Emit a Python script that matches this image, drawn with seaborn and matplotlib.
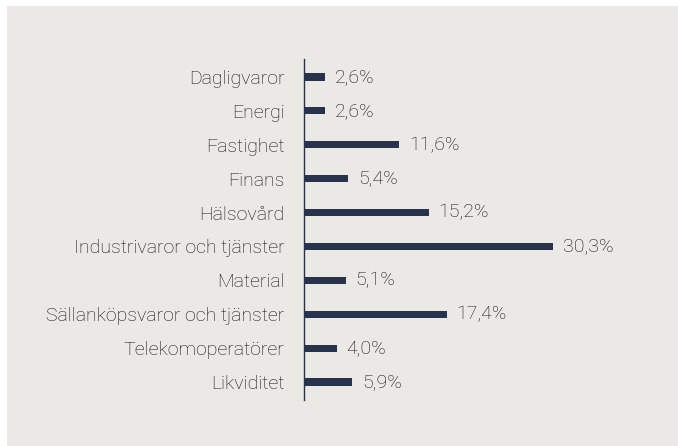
import matplotlib
matplotlib.use("Agg")
import matplotlib.pyplot as plt
import seaborn as sns
import pandas as pd
from matplotlib.patches import Rectangle

# sector weights
categories = ["Dagligvaror", "Energi", "Fastighet", "Finans", "Hälsovård",
              "Industrivaror och tjänster", "Material",
              "Sällanköpsvaror och tjänster", "Telekomoperatörer", "Likviditet"]
values = [2.6, 2.6, 11.6, 5.4, 15.2, 30.3, 5.1, 17.4, 4.0, 5.9]
value_labels = ["2,6%", "2,6%", "11,6%", "5,4%", "15,2%", "30,3%", "5,1%",
                "17,4%", "4,0%", "5,9%"]

bg = "#ebe9e5"
bar_color = "#28324a"
text_color = "#111111"

sns.set_theme(style="white")
plt.rcParams["font.family"] = ["Roboto", "DejaVu Sans"]

W, H = 678, 446
fig = plt.figure(figsize=(W / 100, H / 100), dpi=100)
fig.patch.set_facecolor("white")
fig.add_artist(Rectangle((7 / W, 0), 1 - 7 / W, 1 - 6 / H,
                         transform=fig.transFigure, facecolor=bg,
                         edgecolor="none", zorder=-10))

ax = fig.add_axes([304 / W, 1 - 400 / H, (660 - 304) / W, (400 - 59) / H])
ax.set_facecolor("none")

df = pd.DataFrame({"cat": categories, "val": values})
sns.barplot(data=df, x="val", y="cat", orient="h", color=bar_color,
            width=0.21, saturation=1, linewidth=0, ax=ax)

ax.set_xlim(0, (660 - 304) / 8.21)
ax.set_ylim(len(categories) - 0.47, -0.53)

fs = 14
for i, (v, lab) in enumerate(zip(values, value_labels)):
    ax.text(v + 1.2, i, lab, va="center", ha="left", fontsize=fs,
            color=text_color, fontweight="light")

ax.set_xlabel("")
ax.set_ylabel("")
ax.set_xticks([])
for s in ["top", "right", "bottom"]:
    ax.spines[s].set_visible(False)
ax.spines["left"].set_color(bar_color)
ax.spines["left"].set_linewidth(1.0)
ax.tick_params(axis="y", length=0, pad=14, labelsize=fs, labelcolor=text_color)
for t in ax.get_yticklabels():
    t.set_fontweight("light")

fig.savefig("out.png", dpi=100, facecolor=fig.get_facecolor())
